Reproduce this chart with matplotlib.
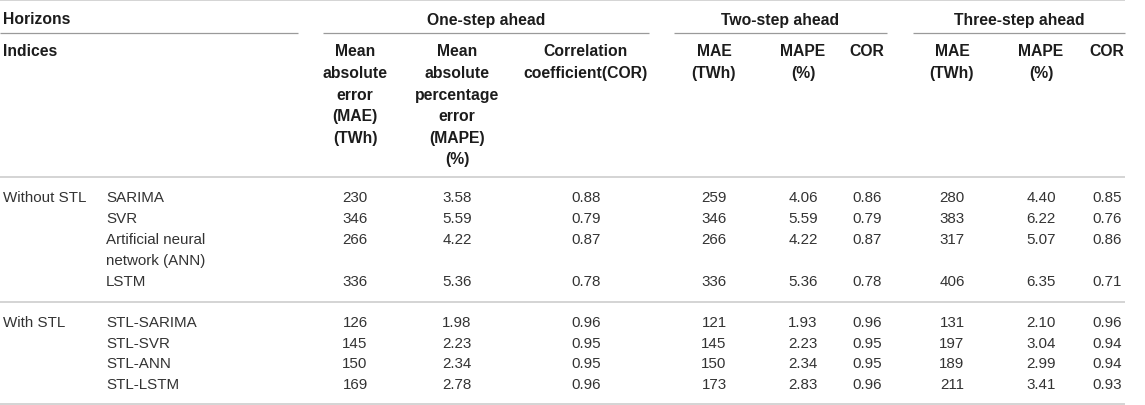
import matplotlib
matplotlib.use("Agg")
import matplotlib.pyplot as plt

# ---- data ----
group_labels = ["Without STL", "With STL"]
models = ["SARIMA", "SVR", "Artificial neural\nnetwork (ANN)", "LSTM",
          "STL-SARIMA", "STL-SVR", "STL-ANN", "STL-LSTM"]
mae1 = [230, 346, 266, 336, 126, 145, 150, 169]
mape1 = [3.58, 5.59, 4.22, 5.36, 1.98, 2.23, 2.34, 2.78]
cor1 = [0.88, 0.79, 0.87, 0.78, 0.96, 0.95, 0.95, 0.96]
mae2 = [259, 346, 266, 336, 121, 145, 150, 173]
mape2 = [4.06, 5.59, 4.22, 5.36, 1.93, 2.23, 2.34, 2.83]
cor2 = [0.86, 0.79, 0.87, 0.78, 0.96, 0.95, 0.95, 0.96]
mae3 = [280, 383, 317, 406, 131, 197, 189, 211]
mape3 = [4.40, 6.22, 5.07, 6.35, 2.10, 3.04, 2.99, 3.41]
cor3 = [0.85, 0.76, 0.86, 0.71, 0.96, 0.94, 0.94, 0.93]

horizon_titles = ["One-step ahead", "Two-step ahead", "Three-step ahead"]
col_headers = [
    ["Mean", "absolute", "error", "(MAE)", "(TWh)"],
    ["Mean", "absolute", "percentage", "error", "(MAPE)", "(%)"],
    ["Correlation", "coefficient(COR)"],
    ["MAE", "(TWh)"], ["MAPE", "(%)"], ["COR"],
    ["MAE", "(TWh)"], ["MAPE", "(%)"], ["COR"],
]

# ---- layout (pixel coordinates) ----
W, H = 1145, 406
fig = plt.figure(figsize=(W / 100, H / 100), dpi=100)
ax = fig.add_axes([0, 0, 1, 1])
ax.set_xlim(0, W)
ax.set_ylim(H, 0)
ax.axis("off")

FONT = "Liberation Sans"
HFS = 11.3
DFS = 10.9
HCOL = "#1c1c1c"
DCOL = "#333333"
RULE = "#c9c9c9"
RULE2 = "#9a9a9a"

table_right = 1125
col_x = [355, 457, 586, 714, 803, 867, 952, 1041, 1107]
group_spans = [(323, 649), (674, 887), (913, 1125)]

# rules
lw = 1.1
ax.plot([0, table_right], [1, 1], color=RULE, lw=lw, solid_capstyle="butt")
for x0, x1 in [(0, 298)] + group_spans:
    ax.plot([x0, x1], [34, 34], color=RULE2, lw=0.9, solid_capstyle="butt")
for y in (177.5, 303, 405):
    ax.plot([0, table_right], [y, y], color=RULE, lw=lw, solid_capstyle="butt")

# header texts
ax.text(3, 20, "Horizons", fontsize=HFS, fontweight="bold", family=FONT,
        color=HCOL, ha="left", va="center")
for (x0, x1), t in zip(group_spans, horizon_titles):
    ax.text((x0 + x1) / 2, 20, t, fontsize=HFS, fontweight="bold", family=FONT,
            color=HCOL, ha="center", va="center")
ax.text(3, 52, "Indices", fontsize=HFS, fontweight="bold", family=FONT,
        color=HCOL, ha="left", va="center")
for cx, lines in zip(col_x, col_headers):
    for i, ln in enumerate(lines):
        ax.text(cx, 52 + 21.6 * i, ln, fontsize=HFS, fontweight="bold",
                family=FONT, color=HCOL, ha="center", va="center")

# body
row_y = [198, 219, 240, 282, 323, 344, 364, 385]
ax.text(3, row_y[0], group_labels[0], fontsize=DFS, family=FONT, color=DCOL,
        ha="left", va="center")
ax.text(3, row_y[4], group_labels[1], fontsize=DFS, family=FONT, color=DCOL,
        ha="left", va="center")
for i, m in enumerate(models):
    for j, ln in enumerate(m.split("\n")):
        ax.text(106, row_y[i] + 21 * j, ln, fontsize=DFS, family=FONT,
                color=DCOL, ha="left", va="center")

cols = [mae1, mape1, cor1, mae2, mape2, cor2, mae3, mape3, cor3]
fmts = ["{:d}", "{:.2f}", "{:.2f}"] * 3
for cx, vals, f in zip(col_x, cols, fmts):
    for y, v in zip(row_y, vals):
        ax.text(cx, y, f.format(v), fontsize=DFS, family=FONT, color=DCOL,
                ha="center", va="center")

fig.savefig("out.png", dpi=100, facecolor="white")
